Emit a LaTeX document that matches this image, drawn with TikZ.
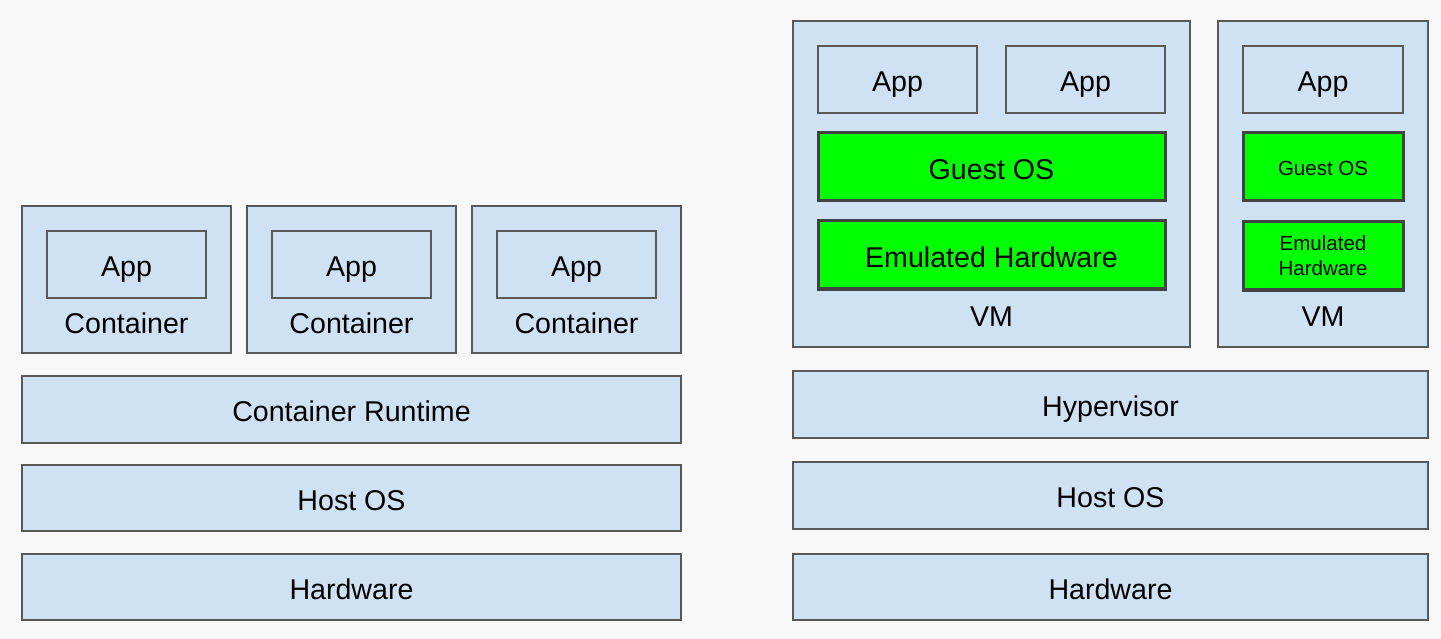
\documentclass[tikz,border=0pt]{standalone}
\usepackage{fontspec}
\setmainfont{Liberation Sans}
\definecolor{bg}{HTML}{F8F8F8}
\definecolor{boxfill}{HTML}{CFE2F3}
\definecolor{boxline}{HTML}{595959}
\definecolor{greenfill}{HTML}{00FF00}
\definecolor{greenline}{HTML}{434343}
\tikzset{
  bigtext/.style={font=\fontsize{28.6}{32}\selectfont, text height=24.5pt, text depth=0pt},
  smalltext/.style={font=\fontsize{20.5}{25}\selectfont, text height=16.7pt, text depth=0pt},
  smalltwo/.style={font=\fontsize{20.5}{25}\selectfont, align=center},
  box/.style={draw=boxline, fill=boxfill, line width=1.3pt, inner sep=0pt, bigtext},
  gbox/.style={draw=greenline, fill=greenfill, line width=3pt, inner sep=0pt},
  lbl/.style={inner sep=0pt, bigtext},
}
% rectangle node from corners: #1 name, #2 style, (x1,y1) (x2,y2), text
\newcommand{\rbox}[7]{%
  \node[#2, minimum width=#5pt-#3pt, minimum height=#6pt-#4pt] (#1) at ({(#3+#5)/2},{(#4+#6)/2}) {#7};}
\begin{document}
\begin{tikzpicture}[x=1pt,y=-1pt]
\fill[bg] (0,0) rectangle (1441,639);
\useasboundingbox (0,0) rectangle (1441,639);
% ---------- left: containers ----------
\rbox{c1}{box}{22}{206}{231}{353}{}
\rbox{c2}{box}{247}{206}{456}{353}{}
\rbox{c3}{box}{472}{206}{681}{353}{}
\rbox{a1}{box}{47}{231}{206}{298}{App}
\rbox{a2}{box}{272}{231}{431}{298}{App}
\rbox{a3}{box}{497}{231}{656}{298}{App}
\node[lbl] (c1l) at (126.5,321) {Container};
\node[lbl] (c2l) at (351.5,321) {Container};
\node[lbl] (c3l) at (576.5,321) {Container};
\rbox{rt}{box}{22}{376}{681}{443}{Container Runtime}
\rbox{hos1}{box}{22}{465}{681}{531}{Host OS}
\rbox{hw1}{box}{22}{554}{681}{620}{Hardware}
% ---------- right: VMs ----------
\rbox{vm1}{box}{793}{21}{1190}{347}{}
\rbox{vm2}{box}{1218}{21}{1428}{347}{}
\rbox{va1}{box}{818}{46}{977}{113}{App}
\rbox{va2}{box}{1006}{46}{1165}{113}{App}
\rbox{va3}{box}{1243}{46}{1403}{113}{App}
\rbox{g1}{gbox, bigtext}{818}{133}{1165}{201}{Guest OS}
\rbox{e1}{gbox, bigtext}{818}{221}{1165}{289}{Emulated Hardware}
\rbox{g2}{gbox, smalltext}{1243}{133}{1403}{201}{Guest OS}
\rbox{e2}{gbox, smalltwo}{1243}{222}{1403}{290}{Emulated\\Hardware}
\node[lbl] (vm1l) at (991.5,314) {VM};
\node[lbl] (vm2l) at (1323,314) {VM};
\rbox{hyp}{box}{793}{371}{1428}{438}{Hypervisor}
\rbox{hos2}{box}{793}{462}{1428}{529}{Host OS}
\rbox{hw2}{box}{793}{554}{1428}{620}{Hardware}
\end{tikzpicture}
\end{document}
